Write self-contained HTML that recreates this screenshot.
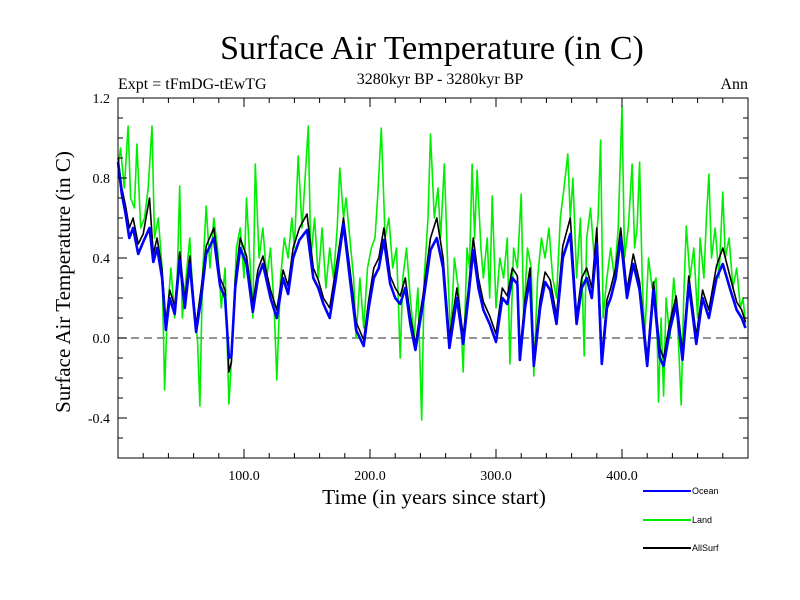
<!DOCTYPE html>
<html><head><meta charset="utf-8"><style>
body{margin:0;background:#fff}
svg{display:block}
text{font-family:"Liberation Serif",serif;fill:#000}
</style></head><body>
<svg id="c" width="800" height="600">
<text x="432" y="59" font-size="34" text-anchor="middle">Surface Air Temperature (in C)</text>
<text x="118" y="89" font-size="16">Expt = tFmDG-tEwTG</text>
<text x="440" y="84" font-size="16" text-anchor="middle">3280kyr BP - 3280kyr BP</text>
<text x="748" y="89" font-size="16" text-anchor="end">Ann</text>
<text transform="translate(70,282) rotate(-90)" font-size="21" text-anchor="middle">Surface Air Temperature (in C)</text>
<text x="434" y="504" font-size="21.5" text-anchor="middle">Time (in years since start)</text>
<g id="plot"></g>
</svg>
<script>
const oceanYears=[0,3,6,9,12,16,20,25,28,31,35,38,41,45,49,53,57,62,66,70,76,81,85,88,90,93,97,102,107,111,115,121,126,131,135,139,144,150,155,159,163,168,173,179,184,189,195,199,203,207,211,216,220,224,228,232,236,242,248,253,258,263,269,274,278,282,286,290,295,300,305,309,313,317,319,323,327,330,335,339,343,348,353,359,364,368,372,376,380,384,388,391,395,399,404,409,414,420,425,430,433,438,443,448,453,459,464,469,475,480,486,491,495,498];
const oceanValues=[0.88,0.72,0.62,0.5,0.55,0.42,0.48,0.55,0.38,0.45,0.3,0.04,0.2,0.12,0.39,0.15,0.37,0.03,0.2,0.42,0.5,0.26,0.2,-0.1,-0.09,0.25,0.45,0.37,0.13,0.3,0.37,0.2,0.1,0.3,0.22,0.4,0.49,0.54,0.3,0.25,0.17,0.1,0.3,0.57,0.3,0.04,-0.04,0.15,0.3,0.35,0.49,0.27,0.2,0.17,0.25,0.07,-0.06,0.17,0.44,0.5,0.35,-0.05,0.2,-0.03,0.2,0.44,0.25,0.14,0.07,-0.02,0.2,0.17,0.3,0.27,-0.11,0.15,0.3,-0.14,0.15,0.28,0.24,0.07,0.4,0.52,0.07,0.25,0.3,0.2,0.47,-0.13,0.15,0.2,0.3,0.5,0.2,0.37,0.24,-0.14,0.24,-0.1,-0.14,0.04,0.17,-0.11,0.27,-0.03,0.2,0.1,0.3,0.37,0.24,0.14,0.1,0.05];
const allSurfValues=[0.9,0.75,0.66,0.55,0.6,0.47,0.52,0.7,0.42,0.5,0.34,0.08,0.24,0.16,0.43,0.19,0.41,0.06,0.25,0.46,0.55,0.3,0.24,-0.17,-0.12,0.29,0.5,0.41,0.17,0.34,0.41,0.24,0.14,0.34,0.26,0.45,0.55,0.62,0.35,0.29,0.2,0.15,0.35,0.6,0.35,0.08,-0.01,0.19,0.35,0.4,0.55,0.31,0.25,0.21,0.3,0.11,-0.03,0.21,0.5,0.6,0.4,0.0,0.25,0.01,0.24,0.5,0.3,0.18,0.11,0.02,0.25,0.21,0.35,0.31,-0.07,0.19,0.35,-0.1,0.19,0.33,0.29,0.11,0.46,0.6,0.11,0.3,0.35,0.25,0.55,-0.09,0.19,0.25,0.35,0.55,0.24,0.42,0.28,-0.1,0.28,-0.05,-0.1,0.08,0.21,-0.07,0.31,0.01,0.24,0.14,0.36,0.45,0.3,0.18,0.14,0.08];
const landYears=[0,2,5,8,10,13,15,18,21,24,27,29,32,35,37,39,42,45,47,49,51,54,57,60,63,65,67,70,73,76,79,82,85,88,91,94,97,100,102,105,107,109,112,115,118,121,124,126,129,132,135,138,140,143,146,148,151,153,156,159,162,165,168,171,174,176,179,181,184,187,189,192,195,198,201,204,206,209,212,215,218,221,224,226,229,232,235,238,241,243,246,248,251,254,256,259,262,264,267,270,272,274,277,279,281,283,285,288,290,293,295,297,300,303,306,309,311,314,317,320,322,325,328,330,333,336,339,342,345,348,351,354,357,359,361,364,367,370,372,375,378,381,383,385,388,391,394,397,400,402,405,408,410,412,414,416,418,421,424,427,429,431,433,435,438,441,444,447,449,451,454,457,460,462,465,467,469,471,474,477,480,482,485,488,491,494,496,498];
const landValues=[0.85,0.95,0.75,1.06,0.7,0.65,0.97,0.55,0.6,0.75,1.06,0.5,0.6,0.35,-0.26,0.1,0.35,0.1,0.3,0.76,0.1,0.3,0.5,0.15,0.0,-0.34,0.3,0.66,0.35,0.6,0.45,0.15,0.35,-0.33,0.0,0.45,0.55,0.3,0.7,0.35,0.1,0.87,0.4,0.55,0.3,0.45,0.15,-0.21,0.3,0.5,0.4,0.6,0.45,0.91,0.55,0.75,1.06,0.4,0.6,0.3,0.55,0.25,0.45,0.3,0.55,0.85,0.6,0.7,0.5,0.3,0.0,0.3,0.05,0.35,0.45,0.5,0.7,1.05,0.5,0.6,0.35,0.45,-0.1,0.3,0.45,0.2,0.0,0.25,-0.41,0.3,0.6,1.02,0.6,0.75,0.5,0.87,0.3,0.0,0.4,0.25,0.1,-0.17,0.45,0.35,0.87,0.5,0.84,0.45,0.3,0.5,0.2,0.71,0.15,0.4,0.3,0.5,-0.13,0.45,0.35,0.72,0.1,0.45,0.35,-0.19,0.3,0.5,0.4,0.55,0.3,0.2,0.6,0.75,0.92,0.6,0.8,0.3,0.6,-0.09,0.5,0.65,0.4,0.6,0.99,0.1,0.3,0.45,0.3,0.55,1.16,0.4,0.55,0.87,0.45,0.55,0.88,0.3,0.0,0.4,0.25,0.3,-0.32,0.1,-0.29,0.2,0.0,0.3,0.1,-0.335,0.2,0.56,0.3,0.45,0.1,0.5,0.3,0.6,0.82,0.4,0.55,0.3,0.73,0.4,0.5,0.25,0.35,0.15,0.2,0.07];
const yTicks=[1.2,0.8,0.4,0.0,-0.4];
const yTickLabels=["1.2","0.8","0.4","0.0","-0.4"];
const xTicks=[100,200,300,400];
const xTickLabels=["100.0","200.0","300.0","400.0"];

const L=118,R=748,T=98,B=458,XMIN=0,XMAX=500,YMIN=-0.6,YMAX=1.2;
const sx=v=>L+(v-XMIN)/(XMAX-XMIN)*(R-L);
const sy=v=>B-(v-YMIN)/(YMAX-YMIN)*(B-T);
const NS='http://www.w3.org/2000/svg';
const g=document.getElementById('plot');
function mk(tag,attrs){const e=document.createElementNS(NS,tag);for(const k in attrs)e.setAttribute(k,attrs[k]);g.appendChild(e);return e;}

const z=mk('line',{x1:L,x2:R,y1:sy(0),y2:sy(0),stroke:'#555','stroke-width':1.2,'stroke-dasharray':'8,5'});



function series(xs,ys,color,w,name){
  const d=xs.map((x,i)=>(i?'L':'M')+sx(x).toFixed(1)+','+sy(ys[i]).toFixed(1)).join('');
  const p=mk('path',{d:d,fill:'none',stroke:color,'stroke-width':w,'stroke-linejoin':'round'});
  
  
}
series(landYears,landValues,'#00ee00',1.6,'land-line');
series(oceanYears,allSurfValues,'#000000',1.6,'allsurf-line');
series(oceanYears,oceanValues,'#0000ff',2.6,'ocean-line');

const f=mk('rect',{x:L,y:T,width:R-L,height:B-T,fill:'none',stroke:'#000','stroke-width':1});



for(let k=-6;k<=12;k++){
  const v=k/10,y=sy(v),maj=(k%4===0);const len=maj?9:5;
  const a=mk('line',{x1:L,x2:L+len,y1:y,y2:y,stroke:'#000'});
  
  
  const b=mk('line',{x1:R,x2:R-len,y1:y,y2:y,stroke:'#000'});
  
  
}
yTicks.forEach((v,i)=>{
  const t=mk('text',{x:L-8,y:sy(v)+5,'font-size':14,'text-anchor':'end'});
  t.textContent=yTickLabels[i];
  
  
});
for(let v=20;v<500;v+=20){
  const x=sx(v),maj=(v%100===0),len=maj?9:5;
  const a=mk('line',{x1:x,x2:x,y1:B,y2:B-len,stroke:'#000'});
  
  
  const b=mk('line',{x1:x,x2:x,y1:T,y2:T+len,stroke:'#000'});
  
  
}
xTicks.forEach((v,i)=>{
  const t=mk('text',{x:sx(v),y:B+22,'font-size':14,'text-anchor':'middle'});
  t.textContent=xTickLabels[i];
  
  
});
[['Ocean','#0000ff',491],['Land','#00ee00',520],['AllSurf','#000',548]].forEach(e=>{
  const l=mk('line',{x1:643,x2:691,y1:e[2],y2:e[2],stroke:e[1],'stroke-width':2});
  
  
  const t=mk('text',{x:692,y:e[2]+3,'font-size':9,style:'font-family:"Liberation Sans",sans-serif'});
  t.textContent=e[0];
  
  
});
</script>
</body></html>
